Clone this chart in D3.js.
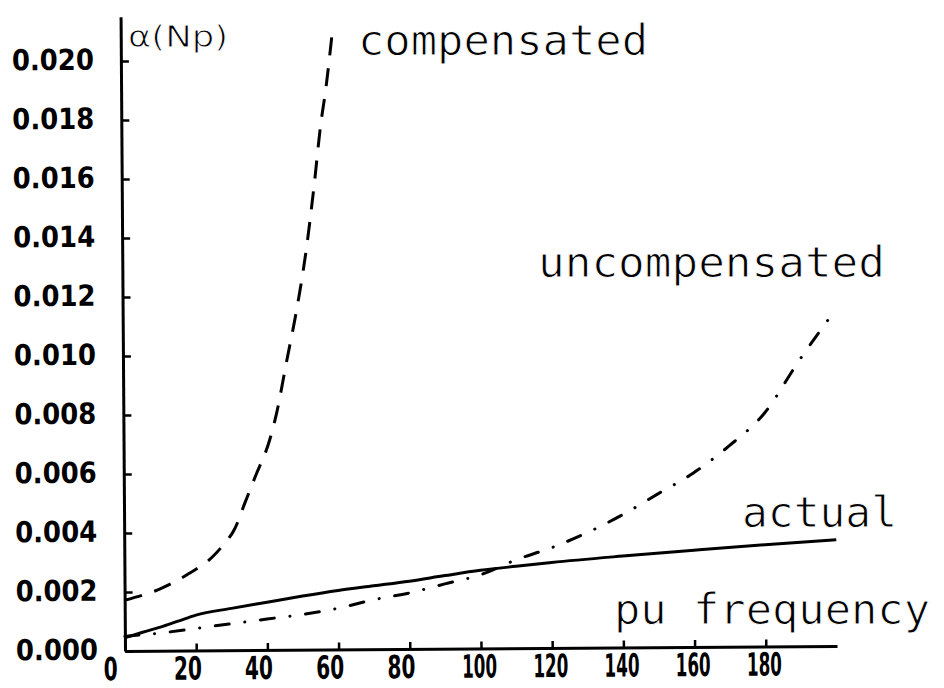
<!DOCTYPE html>
<html>
<head>
<meta charset="utf-8">
<script src="https://cdn.jsdelivr.net/npm/d3@7"></script>
<style>
  html, body { margin: 0; padding: 0; background: #fff; }
  svg { display: block; }
</style>
</head>
<body>
<svg id="chart" width="944" height="688"></svg>
<script>
// Attenuation constant alpha (Np) against per-unit frequency

const xTicks = [0, 20, 40, 60, 80, 100, 120, 140, 160, 180];
const yTicks = [0, 0.002, 0.004, 0.006, 0.008, 0.010, 0.012, 0.014, 0.016, 0.018, 0.020];

// "compensated" (dashed)
const freqCompensated  = [0, 10, 18, 25, 28, 31, 34, 37, 41, 43, 46, 49, 51.5, 54, 56, 57.5, 59.5];
const alphaCompensated = [0.00172, 0.0021, 0.0026, 0.0032, 0.0036, 0.0041, 0.0050, 0.0059, 0.0071,
                          0.0080, 0.0098, 0.0116, 0.0134, 0.0157, 0.0178, 0.0190, 0.0210];

// "uncompensated" (dash-dot)
const freqUncompensated  = [0, 10, 20, 30, 40, 50, 60, 70, 80, 90, 100, 110, 120, 130, 140, 150, 160, 170, 180, 190, 199];
const alphaUncompensated = [0.0005, 0.0006, 0.00075, 0.0009, 0.00105, 0.0012, 0.0014, 0.00168, 0.0019, 0.0022,
                            0.0025, 0.0030, 0.0034, 0.0039, 0.0045, 0.0052, 0.0059, 0.0068, 0.0079, 0.0097, 0.0112];

// "actual" (solid)
const freqActual  = [0, 5, 10, 15, 20, 30, 40, 50, 60, 70, 80, 90, 100, 110, 120, 140, 160, 180, 200];
const alphaActual = [0.00045, 0.00063, 0.0008, 0.001, 0.0012, 0.00142, 0.00162, 0.00182, 0.002, 0.00215,
                     0.0023, 0.00248, 0.00265, 0.00278, 0.0029, 0.0031, 0.00328, 0.00345, 0.0036];

const svg = d3.select("#chart");

const x = d3.scaleLinear().domain([0, 200]).range([125, 837]);
const y = d3.scaleLinear().domain([0, 0.0215]).range([651, 16.75]);

// the whole frame sits very slightly tilted on the sheet
const plot = svg.append("g").attr("transform", "rotate(-0.4,125,651)");

const tickFont = "'DejaVu Sans Condensed', 'DejaVu Sans', sans-serif";

// x axis, ticks pointing into the plot
const xAxis = d3.axisBottom(x)
  .tickValues(xTicks)
  .tickSizeInner(-7)
  .tickSizeOuter(0)
  .tickFormat(d3.format("d"));

const gx = plot.append("g")
  .attr("transform", `translate(0,${y(0)})`)
  .call(xAxis);
gx.select(".domain").attr("stroke", "#000").attr("stroke-width", 3);
gx.selectAll(".tick line").attr("stroke", "#000").attr("stroke-width", 2.5);
gx.selectAll(".tick text")
  .attr("font-family", tickFont)
  .attr("font-weight", "bold")
  .attr("font-size", 32)
  .attr("fill", "#000")
  .attr("dy", 0)
  .attr("y", 29)
  .attr("x", d => {
    const n = String(d).length;
    return n === 3 ? -2 : n === 2 ? -9 : -15;
  })
  .attr("textLength", d => {
    const n = String(d).length;
    return n === 3 ? 35 : n * 14;
  })
  .attr("lengthAdjust", "spacingAndGlyphs");

// y axis, ticks pointing into the plot
const yAxis = d3.axisLeft(y)
  .tickValues(yTicks)
  .tickSizeInner(-8)
  .tickSizeOuter(0)
  .tickFormat(d3.format(".3f"));

const gy = plot.append("g")
  .attr("transform", `translate(${x(0)},0)`)
  .call(yAxis);
gy.select(".domain").attr("stroke", "#000").attr("stroke-width", 3);
gy.selectAll(".tick line").attr("stroke", "#000").attr("stroke-width", 2.5);
gy.selectAll(".tick text")
  .attr("font-family", tickFont)
  .attr("font-weight", "bold")
  .attr("font-size", 29)
  .attr("fill", "#000")
  .attr("text-anchor", "end")
  .attr("dy", 0)
  .attr("y", 8)
  .attr("x", -27)
  .attr("textLength", 82)
  .attr("lengthAdjust", "spacingAndGlyphs");

// curves
const line = d3.line()
  .x(d => x(d[0]))
  .y(d => y(d[1]))
  .curve(d3.curveMonotoneX);

plot.append("path")
  .datum(d3.zip(freqActual, alphaActual))
  .attr("d", line)
  .attr("fill", "none")
  .attr("stroke", "#000")
  .attr("stroke-width", 3)
  .attr("stroke-linejoin", "round");

plot.append("path")
  .datum(d3.zip(freqUncompensated, alphaUncompensated))
  .attr("d", line)
  .attr("fill", "none")
  .attr("stroke", "#000")
  .attr("stroke-width", 3)
  .attr("stroke-linecap", "round")
  .attr("stroke-dasharray", "14,15.7,0.1,15.7");

plot.append("path")
  .datum(d3.zip(freqCompensated, alphaCompensated))
  .attr("d", line)
  .attr("fill", "none")
  .attr("stroke", "#000")
  .attr("stroke-width", 3)
  .attr("stroke-dasharray", "18,13");

// curve and axis labels, in a thin plotter-like lettering
const labelFont = "'DejaVu Sans Mono', monospace";
const labels = [
  { text: "α(Np)",         x: 128, y: 47,  len: 100, size: 30, font: "'DejaVu Sans', sans-serif" },
  { text: "compensated",   x: 358, y: 55,  len: 290, size: 42, font: labelFont },
  { text: "uncompensated", x: 538, y: 277, len: 347, size: 42, font: labelFont },
  { text: "actual",        x: 742, y: 527, len: 155, size: 42, font: labelFont },
  { text: "pu frequency",  x: 614, y: 624, len: 316, size: 42, font: labelFont }
];

svg.append("g").selectAll("text")
  .data(labels)
  .join("text")
  .attr("x", d => d.x)
  .attr("y", d => d.y)
  .attr("font-family", d => d.font)
  .attr("font-size", d => d.size)
  .attr("fill", "#000")
  .attr("stroke", "#fff")
  .attr("stroke-width", 0.9)
  .attr("textLength", d => d.len)
  .attr("lengthAdjust", "spacingAndGlyphs")
  .text(d => d.text);
</script>
</body>
</html>
